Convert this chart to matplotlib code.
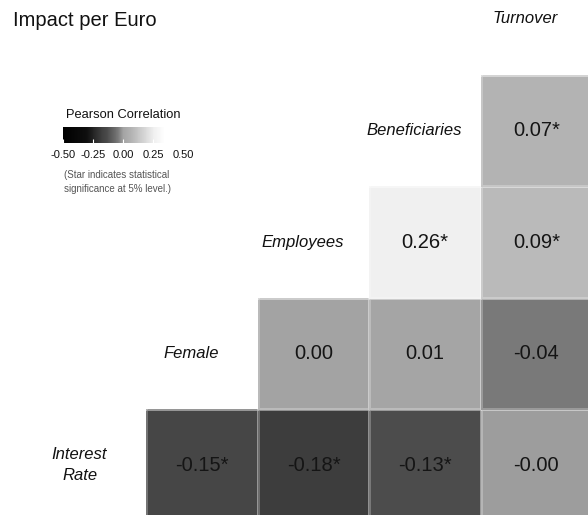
import numpy as np
import matplotlib
matplotlib.use("Agg")
import matplotlib.pyplot as plt
from matplotlib.colors import LinearSegmentedColormap, Normalize

plt.rcParams['font.family'] = ['Liberation Sans', 'DejaVu Sans']

# variables, bottom row first
variables = ["Interest\nRate", "Female", "Employees", "Beneficiaries", "Turnover"]

# pairwise correlations (row variable vs later variables)
corr_interest = [-0.15, -0.18, -0.13, -0.004]
corr_female = [0.00, 0.01, -0.04]
corr_employees = [0.26, 0.09]
corr_beneficiaries = [0.07]

sig_interest = [True, True, True, False]
sig_female = [False, False, False]
sig_employees = [True, True]
sig_beneficiaries = [True]

rows = [corr_interest, corr_female, corr_employees, corr_beneficiaries]
sigs = [sig_interest, sig_female, sig_employees, sig_beneficiaries]

n = len(variables)
grid = np.full((n, n), np.nan)
for i, vals in enumerate(rows):
    for k, v in enumerate(vals):
        grid[i, i + 1 + k] = v
grid = np.ma.masked_invalid(grid)

# grey scale, steep around zero like the original
anchors = [(-0.5, 0), (-0.3, 15), (-0.18, 62), (-0.13, 76), (-0.04, 122),
           (0.0, 163), (0.08, 182), (0.26, 240), (0.35, 255), (0.5, 255)]
cmap = LinearSegmentedColormap.from_list(
    "greys_corr", [((a + 0.5), (g / 255,) * 3) for a, g in anchors])
norm = Normalize(vmin=-0.5, vmax=0.5)

W, H = 588, 515
fig = plt.figure(figsize=(W / 100, H / 100), dpi=100)
ax = fig.add_axes([35 / W, (H - 521) / H, 557 / W, 558 / H])
ax.pcolormesh(np.arange(n + 1), np.arange(n + 1), grid, cmap=cmap, norm=norm,
              edgecolors=(1, 1, 1, 0.25), linewidth=1)
ax.set_xlim(0, n)
ax.set_ylim(0, n)
ax.axis("off")

for i, vals in enumerate(rows):
    for k, v in enumerate(vals):
        j = i + 1 + k
        txt = f"{v:.2f}" + ("*" if sigs[i][k] else "")
        ax.text(j + 0.5, i + 0.5, txt, ha="center", va="center",
                fontsize=14.5, color="#151515")

for i, name in enumerate(variables):
    ax.text(i + 0.4, i + 0.5, name, ha="center", va="center",
            fontsize=12, style="italic", color="#111111", linespacing=1.5)

fig.text(13 / W, 1 - 21 / H, "Impact per Euro", ha="left", va="center",
         fontsize=14.5, color="#111111")

# colour legend
cax = fig.add_axes([63 / W, 1 - 143 / H, 120 / W, 16 / H])
sm = plt.cm.ScalarMappable(norm=norm, cmap=cmap)
cb = fig.colorbar(sm, cax=cax, orientation="horizontal",
                  ticks=[-0.5, -0.25, 0, 0.25, 0.5])
cb.outline.set_visible(False)
cb.ax.set_xticklabels(["-0.50", "-0.25", "0.00", "0.25", "0.50"])
cb.ax.tick_params(direction="in", length=3, color="white", labelsize=8,
                  pad=5, labelcolor="#111111")
fig.text(123 / W, 1 - 115 / H, "Pearson Correlation", ha="center",
         va="center", fontsize=9.3, color="#111111")
fig.text(117 / W, 1 - 182 / H,
         "(Star indicates statistical\nsignificance at 5% level.)",
         ha="center", va="center", fontsize=7, color="#555555", linespacing=1.5)

fig.savefig("out.png", dpi=100)
